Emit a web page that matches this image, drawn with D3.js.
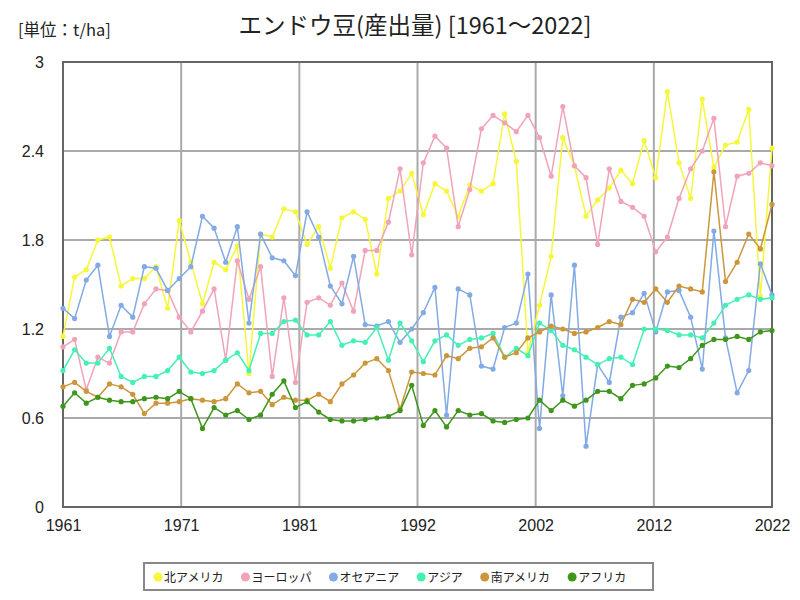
<!DOCTYPE html>
<html>
<head>
<meta charset="utf-8">
<script src="https://cdn.jsdelivr.net/npm/d3@7"></script>
<style>
  body { margin: 0; background: #fff; }
</style>
</head>
<body>
<div id="chart"></div>
<script>
// chart data (t/ha)
var years = d3.range(1961, 2023);

var northAmerica = [1.15, 1.55, 1.60, 1.80, 1.82, 1.49, 1.54, 1.54, 1.62, 1.34,
  1.93, 1.65, 1.37, 1.65, 1.60, 1.76, 0.90, 1.84, 1.82, 2.01,
  1.99, 1.77, 1.89, 1.61, 1.95, 1.99, 1.94, 1.57, 2.08, 2.13,
  2.25, 1.97, 2.18, 2.13, 1.96, 2.17, 2.13, 2.18, 2.65, 2.33,
  1.04, 1.36, 1.69, 2.49, 2.30, 1.96, 2.07, 2.15, 2.27, 2.18,
  2.47, 2.22, 2.80, 2.32, 2.08, 2.75, 2.29, 2.44, 2.46, 2.68,
  1.42, 2.42];
var europe = [1.08, 1.13, 0.79, 1.01, 0.97, 1.18, 1.18, 1.37, 1.47, 1.46,
  1.28, 1.18, 1.32, 1.47, 0.99, 1.66, 1.40, 1.62, 0.88, 1.41,
  0.84, 1.38, 1.41, 1.36, 1.51, 1.32, 1.73, 1.73, 1.92, 2.28,
  1.70, 2.32, 2.50, 2.42, 1.89, 2.14, 2.55, 2.64, 2.59, 2.53,
  2.64, 2.49, 2.23, 2.70, 2.30, 2.22, 1.77, 2.28, 2.06, 2.02,
  1.96, 1.72, 1.82, 2.08, 2.28, 2.40, 2.62, 1.89, 2.23, 2.25,
  2.32, 2.30];
var oceania = [1.34, 1.27, 1.53, 1.63, 1.15, 1.36, 1.28, 1.62, 1.61, 1.46,
  1.54, 1.62, 1.96, 1.88, 1.65, 1.89, 1.24, 1.84, 1.68, 1.66,
  1.56, 1.99, 1.82, 1.49, 1.37, 1.69, 1.23, 1.22, 1.25, 1.11,
  1.20, 1.31, 1.48, 0.62, 1.47, 1.43, 0.95, 0.93, 1.21, 1.24,
  1.57, 0.53, 1.43, 0.75, 1.63, 0.41, 0.96, 0.84, 1.28, 1.31,
  1.44, 1.18, 1.45, 1.46, 1.28, 0.93, 1.86, 1.14, 0.77, 0.92,
  1.64, 1.43];
var asia = [0.92, 1.06, 0.97, 0.97, 1.07, 0.88, 0.84, 0.88, 0.88, 0.92,
  1.01, 0.91, 0.90, 0.92, 0.99, 1.04, 0.92, 1.17, 1.17, 1.25,
  1.26, 1.16, 1.16, 1.25, 1.09, 1.12, 1.11, 1.21, 0.99, 1.24,
  1.12, 0.98, 1.12, 1.16, 1.09, 1.13, 1.14, 1.17, 1.01, 1.07,
  1.02, 1.24, 1.19, 1.09, 1.06, 1.01, 0.96, 1.00, 1.01, 0.96,
  1.20, 1.20, 1.19, 1.16, 1.16, 1.14, 1.24, 1.36, 1.40, 1.43,
  1.40, 1.41];
var southAmerica = [0.81, 0.84, 0.78, 0.74, 0.83, 0.81, 0.76, 0.63, 0.70, 0.70,
  0.71, 0.73, 0.72, 0.71, 0.73, 0.83, 0.77, 0.78, 0.69, 0.74,
  0.72, 0.72, 0.76, 0.71, 0.83, 0.89, 0.97, 1.00, 0.92, 0.66,
  0.91, 0.90, 0.89, 1.02, 1.00, 1.07, 1.08, 1.14, 1.01, 1.04,
  1.14, 1.18, 1.22, 1.20, 1.17, 1.18, 1.21, 1.25, 1.23, 1.40,
  1.38, 1.47, 1.38, 1.49, 1.47, 1.45, 2.26, 1.52, 1.65, 1.84,
  1.74, 2.04];
var africa = [0.68, 0.77, 0.70, 0.74, 0.72, 0.71, 0.71, 0.73, 0.74, 0.73,
  0.78, 0.73, 0.53, 0.67, 0.62, 0.65, 0.59, 0.62, 0.76, 0.85,
  0.67, 0.71, 0.64, 0.59, 0.58, 0.58, 0.59, 0.60, 0.61, 0.65,
  0.82, 0.55, 0.65, 0.54, 0.65, 0.62, 0.63, 0.58, 0.57, 0.59,
  0.60, 0.72, 0.65, 0.72, 0.68, 0.72, 0.78, 0.78, 0.73, 0.82,
  0.83, 0.87, 0.95, 0.94, 1.00, 1.09, 1.13, 1.13, 1.15, 1.13,
  1.18, 1.19];

var seriesNames = ["北アメリカ", "ヨーロッパ", "オセアニア", "アジア", "南アメリカ", "アフリカ"];
var seriesValues = [northAmerica, europe, oceania, asia, southAmerica, africa];
var seriesColors = ["#f7f73a", "#f0a3b9", "#82aae4", "#45f0b4", "#cc963c", "#3f961c"];

var yTicks = [0, 0.6, 1.2, 1.8, 2.4, 3];
var xTickLabels = ["1961", "1971", "1981", "1992", "2002", "2012", "2022"];

// drawing area
var svgWidth = 800;
var svgHeight = 600;
var margin = { top: 62, right: 28, bottom: 93, left: 63 };
var width = svgWidth - margin.left - margin.right;
var height = svgHeight - margin.top - margin.bottom;

var svg = d3.select("#chart")
  .append("svg")
  .attr("width", svgWidth)
  .attr("height", svgHeight)
  .style("font-family", "'Noto Sans CJK JP', sans-serif");

svg.append("rect").attr("width", svgWidth).attr("height", svgHeight).attr("fill", "#fff");

var chart = svg.append("g")
  .attr("transform", "translate(" + margin.left + "," + margin.top + ")");

var xScale = d3.scaleLinear().domain([1961, 2022]).range([0, width]);
var yScale = d3.scaleLinear().domain([0, 3]).range([height, 0]);

// x ticks split the span into six equal parts
var xTickVals = xTickLabels.map(function (d, i) {
  return 1961 + i * (2022 - 1961) / (xTickLabels.length - 1);
});

// grid
chart.append("g")
  .selectAll("line")
  .data(yTicks.slice(1, -1))
  .enter()
  .append("line")
  .attr("x1", 0).attr("x2", width)
  .attr("y1", function (d) { return yScale(d); })
  .attr("y2", function (d) { return yScale(d); })
  .attr("stroke", "#aaa")
  .attr("stroke-width", 2);

chart.append("g")
  .selectAll("line")
  .data(xTickVals.slice(1, -1))
  .enter()
  .append("line")
  .attr("y1", 0).attr("y2", height)
  .attr("x1", function (d) { return xScale(d); })
  .attr("x2", function (d) { return xScale(d); })
  .attr("stroke", "#aaa")
  .attr("stroke-width", 2);

// frame
chart.append("rect")
  .attr("width", width)
  .attr("height", height)
  .attr("fill", "none")
  .attr("stroke", "#666")
  .attr("stroke-width", 2);

// axes (labels only)
var leftAxis = d3.axisLeft(yScale).tickValues(yTicks).tickSize(0).tickPadding(19)
  .tickFormat(function (d) { return String(d); });
var bottomAxis = d3.axisBottom(xScale).tickValues(xTickVals).tickSize(0).tickPadding(13)
  .tickFormat(function (d, i) { return xTickLabels[i]; });

chart.append("g").call(leftAxis)
  .call(function (g) { g.select(".domain").remove(); })
  .selectAll("text")
  .style("font-family", "'Liberation Sans', Arial, sans-serif")
  .style("font-size", "16px")
  .attr("fill", "#222");

chart.append("g")
  .attr("transform", "translate(0," + height + ")")
  .call(bottomAxis)
  .call(function (g) { g.select(".domain").remove(); })
  .selectAll("text")
  .style("font-family", "'Liberation Sans', Arial, sans-serif")
  .style("font-size", "16px")
  .attr("fill", "#222");

// lines and points
var line = d3.line()
  .x(function (d, i) { return xScale(years[i]); })
  .y(function (d) { return yScale(d); });

seriesValues.forEach(function (vals, s) {
  var g = chart.append("g");
  g.append("path")
    .datum(vals)
    .attr("d", line)
    .attr("fill", "none")
    .attr("stroke", seriesColors[s])
    .attr("stroke-width", 1.5);
  g.selectAll("circle")
    .data(vals)
    .enter()
    .append("circle")
    .attr("cx", function (d, i) { return xScale(years[i]); })
    .attr("cy", function (d) { return yScale(d); })
    .attr("r", 2.6)
    .attr("fill", seriesColors[s]);
});

// titles
svg.append("text")
  .attr("x", 415)
  .attr("y", 34)
  .attr("text-anchor", "middle")
  .style("font-size", "23.5px")
  .attr("fill", "#222")
  .text("エンドウ豆(産出量) [1961～2022]");

svg.append("text")
  .attr("x", 18)
  .attr("y", 36)
  .style("font-size", "16.5px")
  .attr("fill", "#222")
  .text("[単位：t/ha]");

// legend
var legend = svg.append("g");
legend.append("rect")
  .attr("x", 144).attr("y", 563)
  .attr("width", 509).attr("height", 27)
  .attr("fill", "#fff")
  .attr("stroke", "#888")
  .attr("stroke-width", 2);

var items = legend.selectAll("g.item")
  .data(seriesNames)
  .enter()
  .append("g")
  .attr("class", "item");

items.append("circle")
  .attr("r", 4.5)
  .attr("cy", 577)
  .attr("fill", function (d, i) { return seriesColors[i]; });

items.append("text")
  .attr("y", 581.5)
  .style("font-size", "12px")
  .attr("fill", "#222")
  .text(function (d) { return d; });

var lx = 158;
items.each(function (d) {
  var it = d3.select(this);
  var tw = it.select("text").node().getComputedTextLength();
  it.select("circle").attr("cx", lx);
  it.select("text").attr("x", lx + 6);
  lx += 6 + tw + 22;
});
</script>
</body>
</html>
